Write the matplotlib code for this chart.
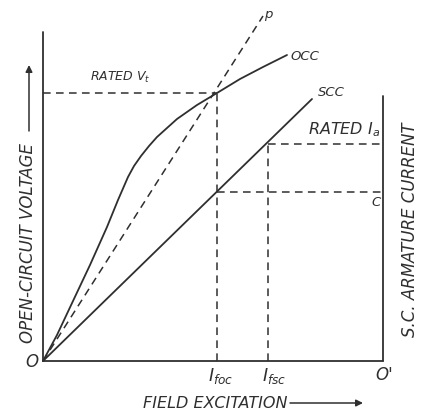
import matplotlib
matplotlib.use("Agg")
import matplotlib.pyplot as plt

# field excitation / voltage / current in arbitrary drawing units
occ_if = [0.0, 0.14, 0.30, 0.47, 0.64, 0.75, 0.85, 0.91, 0.98, 1.06, 1.14, 1.34, 1.54, 1.74, 1.97, 2.20, 2.44]
occ_v = [0.0, 0.26, 0.60, 0.96, 1.34, 1.61, 1.84, 1.95, 2.05, 2.15, 2.24, 2.42, 2.56, 2.68, 2.82, 2.94, 3.06]
scc_if = [0.0, 2.69]
scc_ia = [0.0, 2.62]
air_if = [0.0, 2.20]
air_v = [0.0, 3.45]

i_foc = 1.74
i_fsc = 2.25
x_end = 3.40
v_rated = 2.68
ia_rated = 2.17
i_c = 1.69
v_axis_top = 3.29
ia_axis_top = 2.65

ink = "#2f2f2f"
plt.rcParams["mathtext.fontset"] = "dejavusans"
plt.rcParams["mathtext.default"] = "it"

fig = plt.figure(figsize=(4.22, 4.14), dpi=100)
ax = fig.add_axes([0, 0, 1, 1])
ax.set_xlim(-0.43, 3.79)
ax.set_ylim(-0.52, 3.62)
ax.axis("off")

solid = dict(color=ink, lw=1.3, solid_capstyle="round", solid_joinstyle="round")
dashed = dict(color=ink, lw=1.1, ls=(0, (5, 3.5)))

# axes frame
ax.plot([0, 0], [0, v_axis_top], **solid)
ax.plot([0, x_end], [0, 0], **solid)
ax.plot([x_end, x_end], [0, ia_axis_top], **solid)

# characteristics
ax.plot(occ_if, occ_v, **solid)
ax.plot(scc_if, scc_ia, **solid)
ax.plot(air_if, air_v, **dashed)

# construction lines
ax.plot([0, i_foc], [v_rated, v_rated], **dashed)
ax.plot([i_foc, i_foc], [0, v_rated], **dashed)
ax.plot([i_fsc, i_fsc], [0, ia_rated], **dashed)
ax.plot([i_fsc, x_end], [ia_rated, ia_rated], **dashed)
ax.plot([i_foc, x_end], [i_c, i_c], **dashed)

txt = dict(color=ink, fontsize=9.5, style="italic")
big = dict(color=ink, fontsize=12, style="italic")
ax.text(0.47, 2.85, "RATED $V_t$", ha="left", va="center", color=ink, fontsize=9, style="italic")
ax.text(2.47, 3.06, "OCC", ha="left", va="center", **txt)
ax.text(2.75, 2.70, "SCC", ha="left", va="center", **txt)
ax.text(2.25, 3.48, "p", ha="center", va="center", **txt)
ax.text(3.37, 2.32, "RATED $I_a$", ha="right", va="center", color=ink, fontsize=11.5, style="italic")
ax.text(3.33, 1.59, "C", ha="center", va="center", **txt)
ax.text(-0.11, 0.0, "O", ha="center", va="center", **big)
ax.text(x_end + 0.01, -0.13, "O'", ha="center", va="center", **big)
ax.text(i_foc + 0.04, -0.14, "$I_{foc}$", ha="center", va="center", color=ink, fontsize=12.5)
ax.text(i_fsc + 0.06, -0.14, "$I_{fsc}$", ha="center", va="center", color=ink, fontsize=12.5)

ax.text(1.00, -0.42, "FIELD EXCITATION", ha="left", va="center", color=ink, fontsize=11.5, style="italic")
ax.annotate("", xy=(3.20, -0.42), xytext=(2.47, -0.42),
            arrowprops=dict(arrowstyle="-|>", color=ink, lw=1.1, mutation_scale=10,
                            shrinkA=0, shrinkB=0))
ax.text(-0.15, 1.19, "OPEN-CIRCUIT VOLTAGE", rotation=90, ha="center", va="center", **big)
ax.annotate("", xy=(-0.14, 2.96), xytext=(-0.14, 2.30),
            arrowprops=dict(arrowstyle="-|>", color=ink, lw=1.1, mutation_scale=10,
                            shrinkA=0, shrinkB=0))
ax.text(3.67, 1.32, "S.C. ARMATURE CURRENT", rotation=90, ha="center", va="center", **big)

fig.savefig("out.png", dpi=100)
